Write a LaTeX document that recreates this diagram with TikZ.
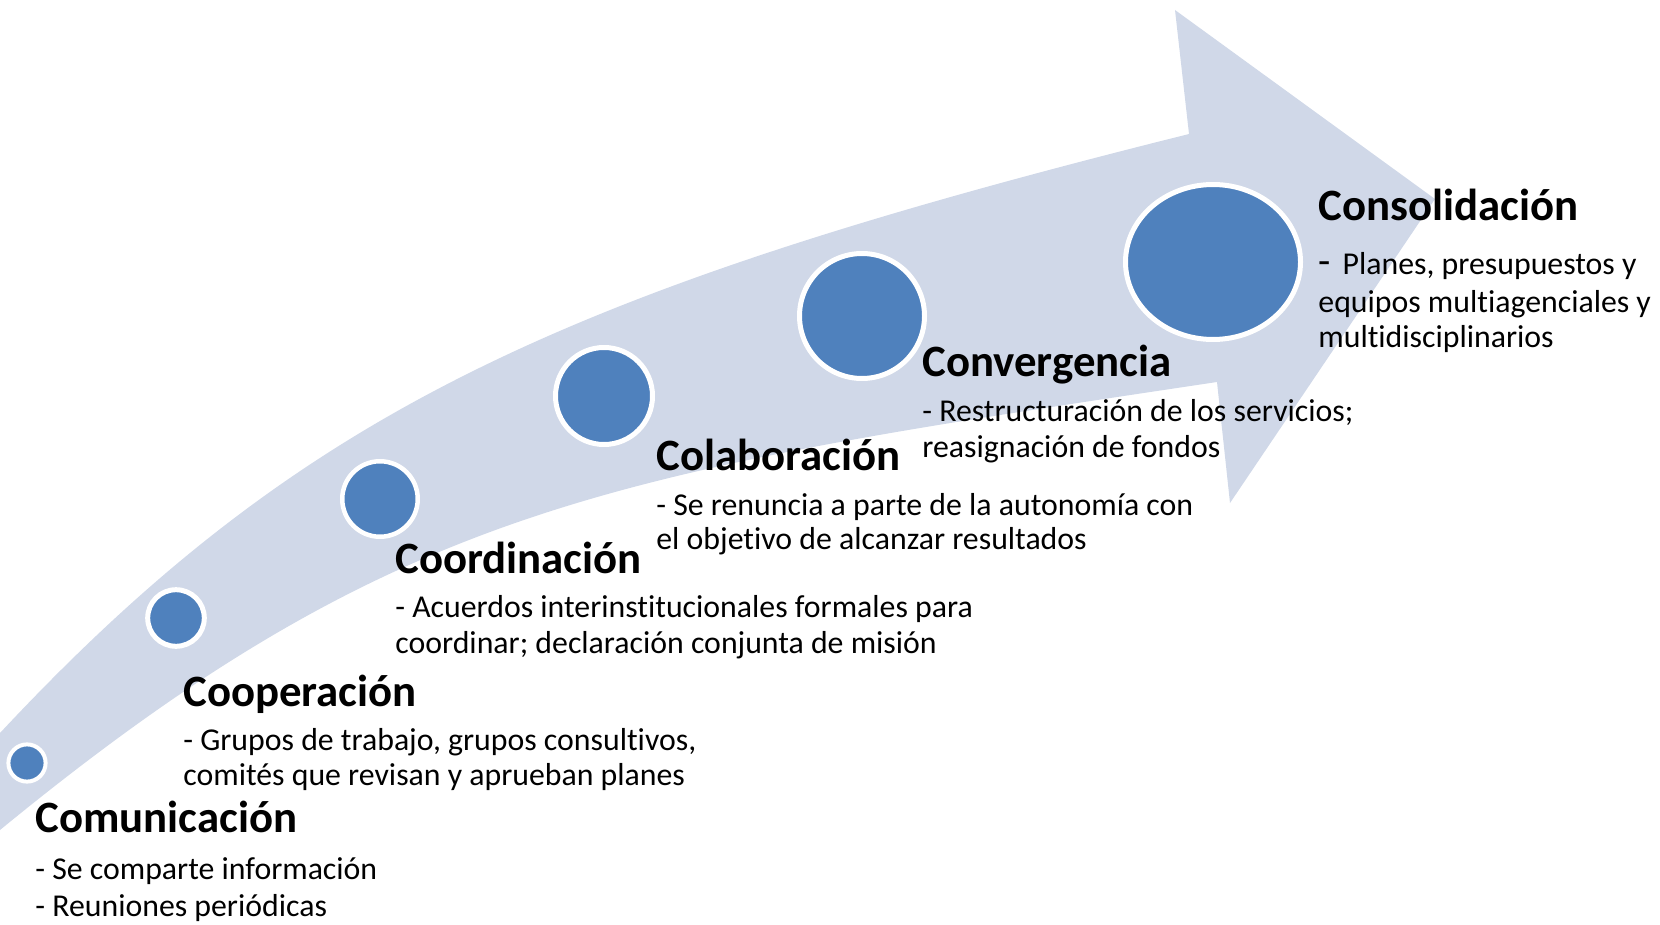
\documentclass[tikz,border=0pt]{standalone}
\usepackage{fontspec}
\setmainfont{Carlito}[Ligatures=NoCommon]
\usetikzlibrary{shapes.geometric}
\definecolor{band}{RGB}{208,216,232}
\definecolor{dot}{RGB}{79,129,189}
\begin{document}
\begin{tikzpicture}[x=0.5pt,y=-0.5pt,
  ttl/.style={anchor=base west, inner sep=0, font=\fontsize{22.4}{26}\selectfont\bfseries},
  bdy/.style={anchor=base west, inner sep=0, font=\fontsize{15.9}{19}\selectfont},
  stage/.style={fill=dot, draw=white, inner sep=0}]
\useasboundingbox (0,0) rectangle (1660,925);
\clip (0,0) rectangle (1660,925);
% arrow band
\fill[band] (0,733) .. controls (300,412) and (560,291) .. (1189,134)
  -- (1175,10) -- (1435,199) -- (1230,503) -- (1217,382)
  .. controls (617,472) and (400,502) .. (0,830) -- cycle;
% stage dots
\node[stage, circle, minimum size=18.6pt, line width=2pt] (c1) at (27,763) {};
\node[stage, circle, minimum size=28.3pt, line width=2.5pt] (c2) at (176,618) {};
\node[stage, circle, minimum size=37.75pt, line width=2.25pt] (c3) at (380,499) {};
\node[stage, circle, minimum size=48.5pt, line width=2.5pt] (c4) at (604,396) {};
\node[stage, circle, minimum size=62.5pt, line width=2.5pt] (c5) at (862,316) {};
\node[stage, ellipse, minimum width=87.5pt, minimum height=77.5pt, line width=2.5pt] (c6) at (1213,262) {};
% texts
\node[ttl] (t1) at (35,832) {Comunicación};
\node[bdy] (b1a) at (35,879) {- Se comparte información};
\node[bdy] (b1b) at (35,916) {- Reuniones periódicas};
\node[ttl] (t2) at (183,706) {Cooperación};
\node[bdy] (b2a) at (183,750) {- Grupos de trabajo, grupos consultivos,};
\node[bdy] (b2b) at (183,785) {comités que revisan y aprueban planes};
\node[ttl] (t3) at (395,573) {Coordinación};
\node[bdy] (b3a) at (395,617) {- Acuerdos interinstitucionales formales para};
\node[bdy] (b3b) at (395,653) {coordinar; declaración conjunta de misión};
\node[ttl] (t4) at (656,470) {Colaboración};
\node[bdy] (b4a) at (656,515) {- Se renuncia a parte de la autonomía con};
\node[bdy] (b4b) at (656,549) {el objetivo de alcanzar resultados};
\node[ttl] (t5) at (922,376) {Convergencia};
\node[bdy] (b5a) at (922,421) {- Restructuración de los servicios;};
\node[bdy] (b5b) at (922,457) {reasignación de fondos};
\node[ttl] (t6) at (1318,221) {Consolidación};
\node[bdy] (b6a) at (1318,275) {{\fontsize{20}{20}\selectfont -}\hspace{6pt}Planes, presupuestos y};
\node[bdy] (b6b) at (1318,313) {equipos multiagenciales y};
\node[bdy] (b6c) at (1318,348) {multidisciplinarios};
\end{tikzpicture}
\end{document}
